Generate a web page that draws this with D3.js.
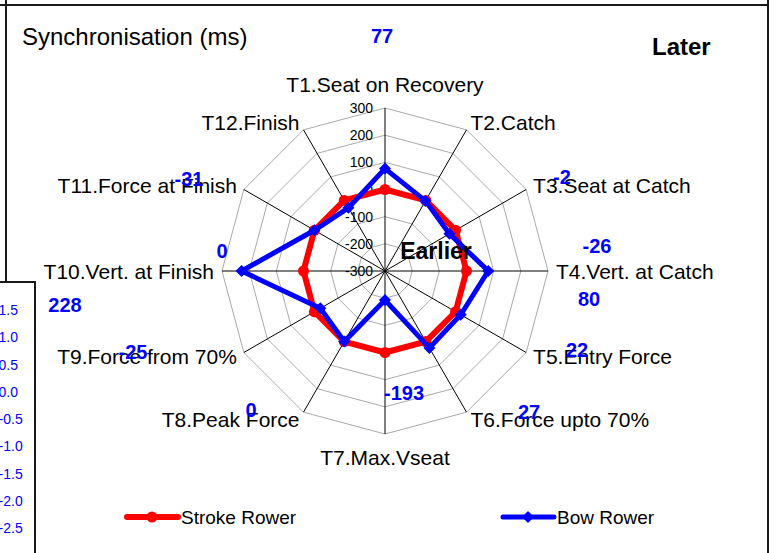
<!DOCTYPE html>
<html>
<head>
<meta charset="utf-8">
<script src="https://cdn.jsdelivr.net/npm/d3@7"></script>
<style>
  html, body { margin: 0; padding: 0; background: #fff; }
  svg { display: block; font-family: "Liberation Sans", Arial, sans-serif; }
</style>
</head>
<body>
<svg id="chart" width="775" height="553"></svg>
<script>
// Timing points around the stroke cycle
const axisNames = [
  "T1.Seat on Recovery", "T2.Catch", "T3.Seat at Catch", "T4.Vert. at Catch",
  "T5.Entry Force", "T6.Force upto 70%", "T7.Max.Vseat", "T8.Peak Force",
  "T9.Force from 70%", "T10.Vert. at Finish", "T11.Force at Finish", "T12.Finish"
];
// Synchronisation (ms), stroke rower is the reference
const strokeRower = [0, 0, 0, 0, 0, 0, 0, 0, 0, 0, 0, 0];
const bowRower = [77, -2, -26, 80, 22, 27, -193, 0, -25, 228, 0, -31];
const radialTicks = [-300, -200, -100, 0, 100, 200, 300];
// secondary axis of the underlying sheet chart
const backAxisTicks = [1.5, 1.0, 0.5, 0.0, -0.5, -1.0, -1.5, -2.0, -2.5];

// layout
const cx = 385, cy = 271, R = 163;
const valueLabelSpots = [
  [382, 43], [562, 184], [597, 253], [589, 306], [577, 357], [529, 419],
  [404, 400], [251, 417], [133, 359], [65, 312], [222, 258], [189, 186]
];

const svg = d3.select("#chart");
svg.append("rect").attr("width", 775).attr("height", 553).attr("fill", "#fff");

// frames
const frame = svg.append("g").attr("stroke", "#1a1a1a").attr("stroke-width", 2).attr("fill", "none");
frame.append("path").attr("d", "M0,5H768");
frame.append("path").attr("d", "M768,0V553");
frame.append("path").attr("d", "M6,0V282");
frame.append("path").attr("d", "M0,282H35V553");

// secondary axis labels peeking out on the left
const backY = d3.scaleLinear().domain([1.5, -2.5]).range([310, 528.3]);
svg.append("g").selectAll("text").data(backAxisTicks).join("text")
  .attr("x", d => d >= 0 ? 18 : 22.7)
  .attr("y", d => backY(d))
  .attr("text-anchor", "end")
  .attr("dominant-baseline", "central")
  .attr("font-size", 14)
  .attr("fill", "#0000ff")
  .text(d => d.toFixed(1));

const n = axisNames.length;
const angle = i => i * 2 * Math.PI / n;
const r = d3.scaleLinear().domain([-300, 300]).range([0, R]);
const pt = (i, v) => [cx + r(v) * Math.sin(angle(i)), cy - r(v) * Math.cos(angle(i))];

const plot = svg.append("g");

// grid rings
plot.append("g").selectAll("polygon").data(radialTicks.filter(t => t > -300)).join("polygon")
  .attr("points", t => d3.range(n).map(i => pt(i, t).join(",")).join(" "))
  .attr("fill", "none").attr("stroke", "#aaaaaa").attr("stroke-width", 1);

// spokes
plot.append("g").selectAll("line").data(d3.range(n)).join("line")
  .attr("x1", cx).attr("y1", cy)
  .attr("x2", i => pt(i, 300)[0]).attr("y2", i => pt(i, 300)[1])
  .attr("stroke", "#000").attr("stroke-width", 1);

// radial tick labels
plot.append("g").selectAll("text").data(radialTicks).join("text")
  .attr("x", 373).attr("y", t => cy - r(t))
  .attr("text-anchor", "end").attr("dominant-baseline", "central")
  .attr("font-size", 14).attr("fill", "#000")
  .text(d => d);

// axis category labels
plot.append("g").selectAll("text").data(axisNames).join("text")
  .each(function (name, i) {
    const s = Math.sin(angle(i)), c = Math.cos(angle(i));
    const t = d3.select(this);
    const pad = 8;
    if (Math.abs(s) < 0.01) {
      t.attr("x", cx).attr("text-anchor", "middle")
       .attr("y", c > 0 ? cy - R - 16 : cy + R + 31);
    } else {
      t.attr("x", cx + (R + pad) * s)
       .attr("y", cy - (R + pad) * c)
       .attr("dominant-baseline", "central")
       .attr("text-anchor", s > 0 ? "start" : "end");
    }
  })
  .attr("font-size", 21).attr("fill", "#000")
  .text(d => d);

const radial = d3.lineRadial()
  .angle((d, i) => angle(i))
  .radius(d => r(d))
  .curve(d3.curveLinearClosed);

const diamond = s => `M0,${-s}L${s},0L0,${s}L${-s},0Z`;

// stroke rower
const gS = plot.append("g").attr("transform", `translate(${cx},${cy})`);
gS.append("path").attr("d", radial(strokeRower))
  .attr("fill", "none").attr("stroke", "#ff0000").attr("stroke-width", 6).attr("stroke-linejoin", "round");
plot.append("g").selectAll("circle").data(strokeRower).join("circle")
  .attr("cx", (d, i) => pt(i, d)[0]).attr("cy", (d, i) => pt(i, d)[1])
  .attr("r", 5.5).attr("fill", "#ff0000");

// bow rower
const gB = plot.append("g").attr("transform", `translate(${cx},${cy})`);
gB.append("path").attr("d", radial(bowRower))
  .attr("fill", "none").attr("stroke", "#0000ff").attr("stroke-width", 5).attr("stroke-linejoin", "miter");
plot.append("g").selectAll("path").data(bowRower).join("path")
  .attr("transform", (d, i) => `translate(${pt(i, d)[0]},${pt(i, d)[1]})`)
  .attr("d", diamond(6)).attr("fill", "#0000ff");

// bow rower values
svg.append("g").selectAll("text").data(bowRower).join("text")
  .attr("x", (d, i) => valueLabelSpots[i][0])
  .attr("y", (d, i) => valueLabelSpots[i][1])
  .attr("text-anchor", "middle")
  .attr("font-size", 20).attr("font-weight", "bold").attr("fill", "#0000ff")
  .text(d => d);

// titles and annotations
svg.append("text").attr("x", 22).attr("y", 45).attr("font-size", 24).attr("fill", "#000")
  .text("Synchronisation (ms)");
svg.append("text").attr("x", 652).attr("y", 55).attr("font-size", 24).attr("font-weight", "bold").attr("fill", "#000")
  .text("Later");
svg.append("text").attr("x", 436).attr("y", 259).attr("text-anchor", "middle")
  .attr("font-size", 23).attr("font-weight", "bold").attr("fill", "#000")
  .text("Earlier");

// legend
const legend = [
  { name: "Stroke Rower", color: "#ff0000", x: 127, marker: "circle", w: 6 },
  { name: "Bow Rower", color: "#0000ff", x: 503, marker: "diamond", w: 5 }
];
const lg = svg.append("g").selectAll("g").data(legend).join("g")
  .attr("transform", d => `translate(${d.x},517)`);
lg.append("line").attr("x1", 0).attr("x2", 51).attr("y1", 0).attr("y2", 0)
  .attr("stroke", d => d.color).attr("stroke-width", d => d.w).attr("stroke-linecap", "round");
lg.each(function (d) {
  const g = d3.select(this);
  if (d.marker === "circle") g.append("circle").attr("cx", 25).attr("r", 5.5).attr("fill", d.color);
  else g.append("path").attr("transform", "translate(25,0)").attr("d", diamond(6)).attr("fill", d.color);
});
lg.append("text").attr("x", 54).attr("y", 0).attr("dominant-baseline", "central")
  .attr("font-size", 19).attr("fill", "#000").text(d => d.name);
</script>
</body>
</html>
